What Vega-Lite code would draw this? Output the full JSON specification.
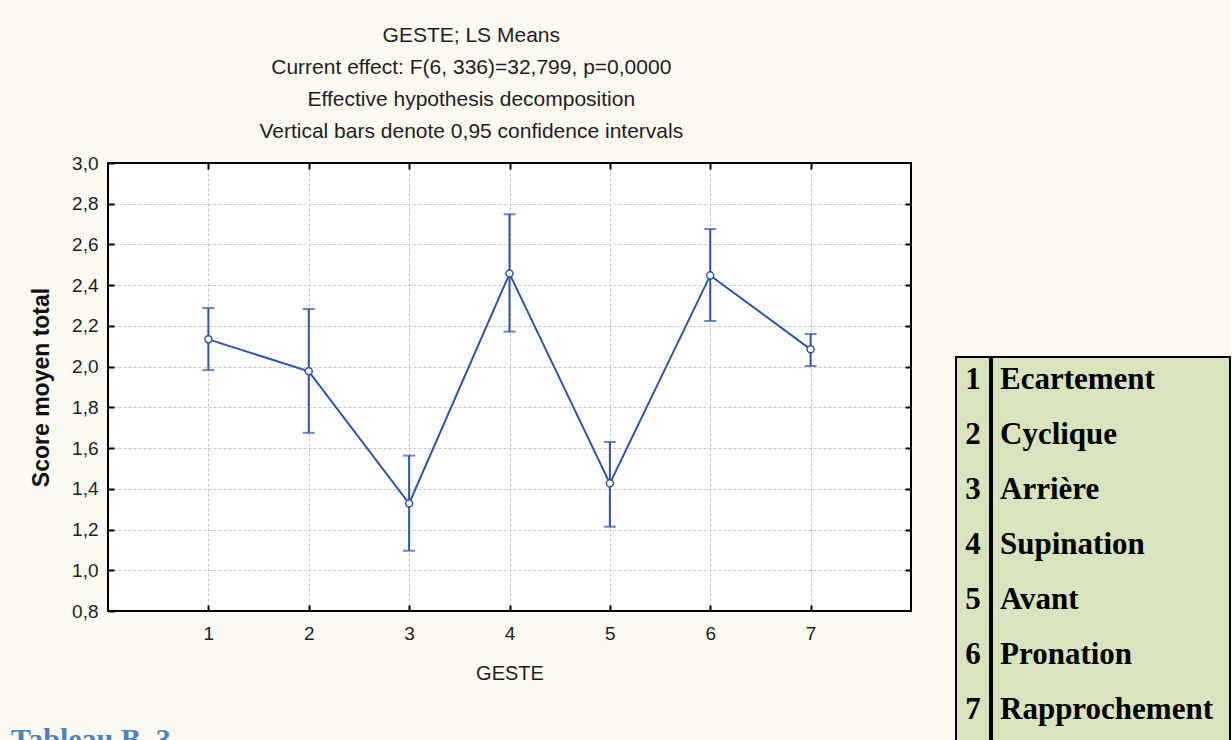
{
  "$schema": "https://vega.github.io/schema/vega-lite/v6.json",
  "background": "#fcf9f1",
  "padding": {"left": 11, "top": 24, "right": 0, "bottom": 0},
  "config": {"font": "Liberation Sans"},
  "datasets": {
    "means": [
      {"g": 1, "mean": 2.134, "lo": 1.983, "hi": 2.288},
      {"g": 2, "mean": 1.977, "lo": 1.675, "hi": 2.283},
      {"g": 3, "mean": 1.328, "lo": 1.096, "hi": 1.563},
      {"g": 4, "mean": 2.457, "lo": 2.172, "hi": 2.748},
      {"g": 5, "mean": 1.427, "lo": 1.214, "hi": 1.630},
      {"g": 6, "mean": 2.448, "lo": 2.224, "hi": 2.676},
      {"g": 7, "mean": 2.085, "lo": 2.003, "hi": 2.160}
    ],
    "gestes": [
      {"n": 1, "nom": "Ecartement"},
      {"n": 2, "nom": "Cyclique"},
      {"n": 3, "nom": "Arrière"},
      {"n": 4, "nom": "Supination"},
      {"n": 5, "nom": "Avant"},
      {"n": 6, "nom": "Pronation"},
      {"n": 7, "nom": "Rapprochement"}
    ],
    "caption": [{"t": "Tableau B. 3"}]
  },
  "hconcat": [
    {
      "vconcat": [
        {
          "width": 803,
          "height": 448,
          "title": {
            "text": ["GESTE; LS Means", "Current effect: F(6, 336)=32,799, p=0,0000", "Effective hypothesis decomposition", "Vertical bars denote 0,95 confidence intervals"],
            "fontSize": 21,
            "fontWeight": "normal",
            "lineHeight": 32,
            "color": "#1e1e1e",
            "offset": 12,
            "frame": "bounds",
            "anchor": "middle"
          },
          "view": {"fill": "white", "stroke": "black", "strokeWidth": 2},
          "data": {"name": "means"},
          "layer": [
            {
              "mark": {"type": "errorbar", "color": "#2f55a8", "thickness": 2, "ticks": {"size": 12, "thickness": 2, "color": "#2f55a8"}},
              "encoding": {
                "x": {
                  "field": "g", "type": "quantitative",
                  "scale": {"domain": [0, 8], "nice": false, "zero": false},
                  "axis": {
                    "orient": "bottom", "values": [1, 2, 3, 4, 5, 6, 7],
                    "title": "GESTE", "titleFontSize": 20, "titleFontWeight": "normal", "titleColor": "#1e1e1e", "titlePadding": 20,
                    "labelFontSize": 19, "labelColor": "#1e1e1e", "labelPadding": 19, "labelFlush": false,
                    "tickSize": -6, "tickWidth": 2, "tickColor": "black", "domain": false,
                    "grid": true, "gridColor": "#c6c6c6", "gridDash": [3, 2], "gridWidth": 1
                  }
                },
                "y": {
                  "field": "lo", "type": "quantitative",
                  "scale": {"domain": [0.8, 3.0], "nice": false, "zero": false},
                  "axis": {
                    "orient": "left", "values": [0.8, 1, 1.2, 1.4, 1.6, 1.8, 2, 2.2, 2.4, 2.6, 2.8, 3],
                    "labelExpr": "replace(format(datum.value, '.1f'), '.', ',')",
                    "title": "Score moyen total", "titleFontSize": 23, "titleFontWeight": "bold", "titleColor": "#111111", "titlePadding": 18,
                    "labelFontSize": 19, "labelColor": "#1e1e1e", "labelPadding": 16, "labelFlush": false,
                    "tickSize": -6, "tickWidth": 2, "tickColor": "black", "domain": false,
                    "grid": false
                  }
                },
                "y2": {"field": "hi"}
              }
            },
            {
              "mark": {"type": "line", "color": "#2f55a8", "strokeWidth": 2},
              "encoding": {
                "x": {"field": "g", "type": "quantitative", "axis": null},
                "y": {"field": "mean", "type": "quantitative", "axis": null}
              }
            },
            {
              "mark": {"type": "point", "filled": true, "fill": "white", "stroke": "#2f55a8", "strokeWidth": 1.5, "size": 50, "opacity": 1},
              "encoding": {
                "x": {
                  "field": "g", "type": "quantitative",
                  "axis": {"orient": "top", "values": [1, 2, 3, 4, 5, 6, 7], "labels": false, "title": null, "grid": false,
                           "tickSize": -6, "tickWidth": 2, "tickColor": "black", "domain": false}
                },
                "y": {
                  "field": "mean", "type": "quantitative",
                  "axis": {"orient": "right", "values": [1, 1.2, 1.4, 1.6, 1.8, 2, 2.2, 2.4, 2.6, 2.8], "labels": false, "title": null,
                           "grid": true, "gridColor": "#c6c6c6", "gridDash": [3, 2], "gridWidth": 1,
                           "tickSize": -6, "tickWidth": 2, "tickColor": "black", "domain": false}
                }
              }
            }
          ],
          "resolve": {"axis": {"x": "independent", "y": "independent"}}
        },
        {
          "width": 300,
          "height": 20,
          "data": {"name": "caption"},
          "view": {"stroke": null},
          "mark": {"type": "text", "align": "left", "baseline": "top", "font": "Liberation Serif", "fontSize": 30, "fontWeight": "bold", "color": "#4f81bd", "dx": -97},
          "encoding": {
            "text": {"field": "t"},
            "x": {"datum": 0, "type": "quantitative", "scale": {"domain": [0, 1]}, "axis": null},
            "y": {"datum": 1, "type": "quantitative", "scale": {"domain": [0, 1]}, "axis": null}
          }
        }
      ],
      "spacing": 41
    },
    {
      "vconcat": [
        {
          "width": 272,
          "height": 193,
          "data": {"values": []},
          "mark": "point",
          "view": {"stroke": null}
        },
        {
          "hconcat": [
            {
              "width": 34,
              "height": 386,
              "data": {"name": "gestes"},
              "view": {"fill": "#d7e4bd", "stroke": "black", "strokeWidth": 2},
              "mark": {"type": "text", "font": "Liberation Serif", "fontSize": 31, "fontWeight": "bold", "color": "black", "baseline": "middle", "dy": -5},
              "encoding": {
                "y": {"field": "n", "type": "ordinal", "axis": null, "scale": {"paddingInner": 0, "paddingOuter": 0}},
                "text": {"field": "n"}
              }
            },
            {
              "width": 238,
              "height": 386,
              "data": {"name": "gestes"},
              "view": {"fill": "#d7e4bd", "stroke": "black", "strokeWidth": 2},
              "mark": {"type": "text", "font": "Liberation Serif", "fontSize": 31, "fontWeight": "bold", "color": "black", "baseline": "middle", "align": "left", "dy": -5, "dx": 8},
              "encoding": {
                "y": {"field": "n", "type": "ordinal", "axis": null, "scale": {"paddingInner": 0, "paddingOuter": 0}},
                "x": {"datum": 0, "type": "quantitative", "scale": {"domain": [0, 1]}, "axis": null},
                "text": {"field": "nom"}
              }
            }
          ],
          "spacing": 0
        }
      ],
      "spacing": 0
    }
  ],
  "spacing": 42
}
